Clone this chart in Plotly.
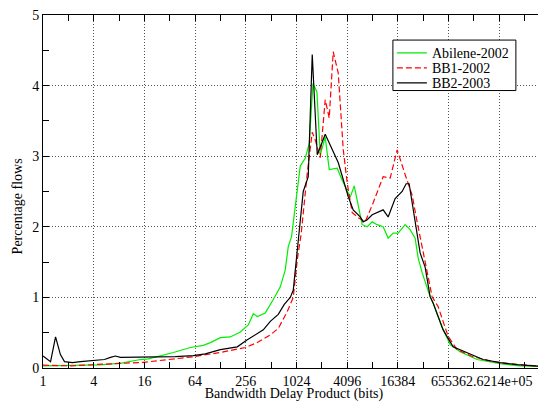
import math
import plotly.graph_objects as go

# Bandwidth delay product (bits) and percentage of flows
abilene_x = [1, 4.81, 8.54, 14.35, 17.9, 24.8, 35.4, 56.3, 80.2, 97.2, 127.7, 167.8, 220.6,
             274.4, 314.5, 351, 437, 543.5, 658, 754, 818.6, 895.9, 964, 1136, 1302, 1453,
             1608, 1793, 1962, 2249, 2509, 3122, 3580, 4454, 4970, 6183, 7087, 8126, 9313,
             10967, 12573, 14420, 16530, 20010, 22930, 26290, 28540, 31840, 39620, 42990,
             55010, 68470, 89900, 143100, 268300, 463200, 917000]
abilene_y = [0.03, 0.045, 0.07, 0.12, 0.13, 0.17, 0.22, 0.29, 0.32, 0.36, 0.43, 0.44, 0.51,
             0.61, 0.77, 0.73, 0.78, 0.97, 1.15, 1.39, 1.72, 1.86, 2.19, 2.86, 2.97, 3.18,
             4.03, 3.91, 3.02, 3.27, 2.81, 2.83, 2.66, 2.42, 2.58, 2.03, 2.0, 2.07, 2.03,
             2.0, 1.84, 1.91, 1.91, 2.03, 1.96, 1.84, 1.56, 1.35, 1.01, 0.92,
             0.58, 0.33, 0.23, 0.12, 0.06, 0.03, 0.02]

bb1_x = [1, 2.18, 4.43, 8.54, 15.6, 30.8, 42.8, 61.1, 127.7, 252.8, 351, 500.9, 623, 797,
         938, 1047, 1168, 1376, 1577, 1712, 1962, 2249, 2509, 2799, 3209, 3679, 4104, 4705,
         5541, 6710, 8349, 10967, 13279, 16085, 20010, 24220, 27770, 31840, 41840, 49300,
         64790, 82820, 128200, 221600, 426900, 917000]
bb1_y = [0.04, 0.03, 0.05, 0.07, 0.08, 0.12, 0.14, 0.16, 0.22, 0.29, 0.36, 0.47, 0.56, 0.8,
         1.0, 1.53, 1.91, 2.76, 3.34, 3.23, 2.98, 3.8, 3.54, 4.48, 4.18, 3.1, 2.62, 2.2,
         2.13, 2.07, 2.34, 2.71, 2.69, 3.09, 2.74, 2.45, 2.07, 1.72, 1.01, 0.87,
         0.45, 0.26, 0.16, 0.09, 0.05, 0.02]

bb2_x = [1, 1.23, 1.41, 1.61, 1.80, 2.24, 2.79, 3.47, 4.31, 5.37, 6.32, 7.25, 8.31, 12.5,
         18.9, 24.8, 37.3, 61.1, 84.7, 127.7, 203, 267, 332, 413.6, 500.9, 623, 733.8,
         864.9, 938, 1076, 1136, 1233, 1414, 1577, 1808, 2249, 3209, 4218, 4834, 5853,
         6352, 7087, 8126, 10967, 12573, 15227, 18434, 20570, 22320, 26290, 30140, 34560,
         39620, 42990, 56540, 74290, 108900, 168600, 268300, 426900, 917000]
bb2_y = [0.17, 0.09, 0.44, 0.19, 0.09, 0.075, 0.09, 0.10, 0.12, 0.12, 0.15, 0.17, 0.15, 0.15,
         0.15, 0.16, 0.16, 0.175, 0.20, 0.26, 0.30, 0.40, 0.47, 0.54, 0.66, 0.76, 0.90,
         1.0, 1.1, 1.81, 2.14, 2.5, 2.71, 4.44, 3.02, 3.31, 2.91, 2.43, 2.24, 2.14,
         2.07, 2.1, 2.17, 2.24, 2.14, 2.4, 2.5, 2.61, 2.61, 2.06, 1.63, 1.43,
         1.01, 0.92, 0.54, 0.30, 0.22, 0.12, 0.075, 0.047, 0.02]

x_tickvals = [1, 4, 16, 64, 256, 1024, 4096, 16384, 65536, 262144]
x_ticktext = ["1", "4", "16", "64", "256", "1024", "4096", "16384", "65536", "2.6214e+05"]
x_minor = [2, 8, 32, 128, 512, 2048, 8192, 32768, 131072, 524288]
x_max = 917000

FONT = "Liberation Serif, Times New Roman, Times, serif"

fig = go.Figure()
fig.add_trace(go.Scatter(x=abilene_x, y=abilene_y, mode="lines", name="Abilene-2002",
                         line=dict(color="#00ee00", width=1.2), legend="legend"))
fig.add_trace(go.Scatter(x=bb1_x, y=bb1_y, mode="lines", name="BB1-2002",
                         line=dict(color="#ff0000", width=1.2, dash="6px,3px"),
                         legend="legend2"))
fig.add_trace(go.Scatter(x=bb2_x, y=bb2_y, mode="lines", name="BB2-2003",
                         line=dict(color="#000000", width=1.2), legend="legend3"))

axis_common = dict(
    showline=True, linecolor="black", linewidth=1, mirror="allticks",
    ticks="inside", ticklen=6, tickcolor="black", tickwidth=1,
    showgrid=True, gridcolor="#555555", gridwidth=1, griddash="1px,2px",
    zeroline=False, tickfont=dict(family=FONT, size=14, color="black"),
    ticklabeloverflow="allow",
)

fig.update_xaxes(
    type="log", range=[0, math.log10(x_max)],
    tickmode="array", tickvals=x_tickvals, ticktext=x_ticktext, tickangle=0,
    minor=dict(tickmode="array", tickvals=x_minor, ticks="inside", ticklen=6,
               tickcolor="black", showgrid=False),
    title=dict(text="Bandwidth Delay Product (bits)",
               font=dict(family=FONT, size=14, color="black"), standoff=5),
    automargin=False,
    **axis_common,
)
fig.update_yaxes(
    range=[0, 5], dtick=1, tick0=0,
    minor=dict(dtick=0.5, ticks="inside", ticklen=6, tickcolor="black", showgrid=False),
    automargin=False,
    **axis_common,
)

fig.add_annotation(text="Percentage flows", textangle=-90, xref="paper", yref="paper",
                   x=-0.049, y=0.459, xanchor="center", yanchor="middle", showarrow=False,
                   font=dict(family=FONT, size=14, color="black"))

# legend frame (white box with black border)
fig.add_shape(type="rect", xref="paper", yref="paper", x0=0.697, x1=0.942, y0=0.786, y1=0.929,
              fillcolor="white", line=dict(color="black", width=1), layer="above")

leg_common = dict(xanchor="left", yanchor="top", bgcolor="rgba(0,0,0,0)", borderwidth=0,
                  font=dict(family=FONT, size=14, color="black"))

# page body has an 8px margin, so the figure is sized to fit the window
fig.update_layout(
    width=538, height=394,
    margin=dict(l=35, r=1, t=7, b=34),
    paper_bgcolor="white", plot_bgcolor="white",
    font=dict(family=FONT, size=14, color="black"),
    showlegend=True,
    legend=dict(x=0.695, y=0.937, **leg_common),
    legend2=dict(x=0.695, y=0.8945, **leg_common),
    legend3=dict(x=0.695, y=0.852, **leg_common),
)

fig.write_html("out.html")
